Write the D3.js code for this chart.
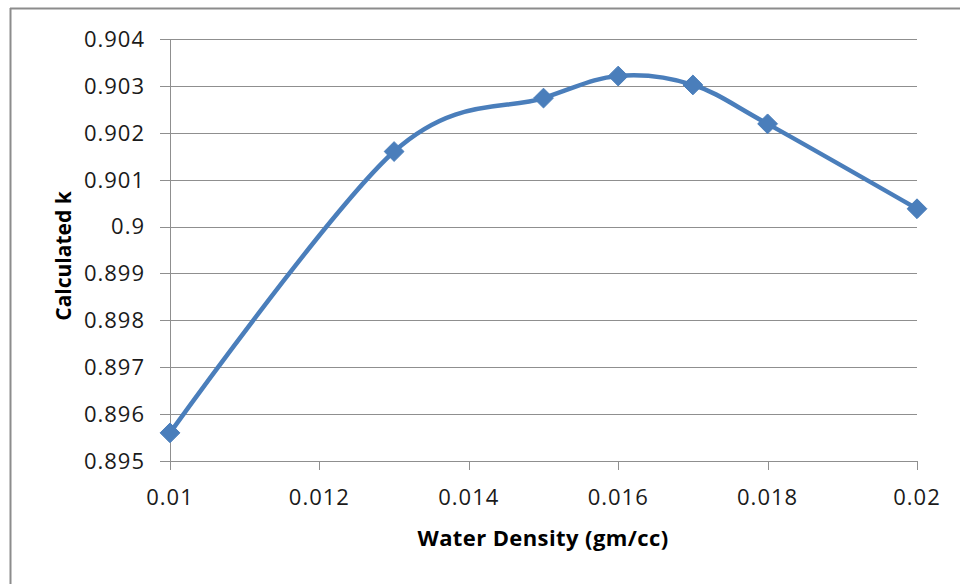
<!DOCTYPE html>
<html><head><meta charset="utf-8">
<script src="https://cdn.jsdelivr.net/npm/d3@7"></script>
<style>html,body{margin:0;padding:0;background:#fff;}svg{display:block;}</style>
</head><body>
<svg id="chart" width="960" height="584"></svg>
<script>
const waterDensity = [0.010, 0.013, 0.015, 0.016, 0.017, 0.018, 0.020];
const calculatedK = [0.89560, 0.90160, 0.90274, 0.90321, 0.90302, 0.90219, 0.90038];
const xTicks = [0.010, 0.012, 0.014, 0.016, 0.018, 0.020];
const xTickLabels = ["0.01", "0.012", "0.014", "0.016", "0.018", "0.02"];
const yTicks = [0.895, 0.896, 0.897, 0.898, 0.899, 0.900, 0.901, 0.902, 0.903, 0.904];
const yTickLabels = ["0.895", "0.896", "0.897", "0.898", "0.899", "0.9", "0.901", "0.902", "0.903", "0.904"];
const xTitle = "Water Density (gm/cc)";
const yTitle = "Calculated k";

(function () {
const svg = d3.select("#chart");
const font = "'Open Sans', 'Liberation Sans', Arial, sans-serif";
const pL = 170, pR = 917, pT = 39, pB = 461;
const x = d3.scaleLinear().domain([0.010, 0.020]).range([pL, pR]);
const y = d3.scaleLinear().domain([0.895, 0.904]).range([pB, pT]);

// outer frame
svg.append("line").attr("x1", 10).attr("x2", 960).attr("y1", 8.5).attr("y2", 8.5)
  .attr("stroke", "#8c8c8c").attr("stroke-width", 2);
svg.append("line").attr("x1", 10.5).attr("x2", 10.5).attr("y1", 8).attr("y2", 584)
  .attr("stroke", "#8c8c8c").attr("stroke-width", 2);

// gridlines
svg.append("g").selectAll("line").data(yTicks).join("line")
  .attr("x1", pL - 10).attr("x2", pR)
  .attr("y1", d => Math.round(y(d)) + 0.5).attr("y2", d => Math.round(y(d)) + 0.5)
  .attr("stroke", "#8f8f8f").attr("stroke-width", 1);

// y axis line
svg.append("line").attr("x1", pL + 0.5).attr("x2", pL + 0.5)
  .attr("y1", pT).attr("y2", pB + 9).attr("stroke", "#8f8f8f");
// x ticks
svg.append("g").selectAll("line").data(xTicks).join("line")
  .attr("x1", d => Math.round(x(d)) + 0.5).attr("x2", d => Math.round(x(d)) + 0.5)
  .attr("y1", pB).attr("y2", pB + 9).attr("stroke", "#8f8f8f");

// tick labels
svg.append("g").selectAll("text").data(yTicks).join("text")
  .attr("x", 145).attr("y", d => y(d)).attr("dy", "0.36em")
  .attr("text-anchor", "end").attr("font-family", font).attr("font-size", 22)
  .attr("letter-spacing", 1).attr("fill", "#1a1a1a").text((d, i) => yTickLabels[i]);
svg.append("g").selectAll("text").data(xTicks).join("text")
  .attr("x", d => x(d)).attr("y", 497).attr("dy", "0.36em")
  .attr("text-anchor", "middle").attr("font-family", font).attr("font-size", 22)
  .attr("letter-spacing", 1).attr("fill", "#1a1a1a").text((d, i) => xTickLabels[i]);

// titles
svg.append("text").attr("x", 543).attr("y", 538).attr("dy", "0.36em")
  .attr("text-anchor", "middle").attr("font-family", font).attr("font-size", 22)
  .attr("letter-spacing", 0.4)
  .attr("font-weight", "bold").attr("fill", "#000").text(xTitle);
svg.append("text").attr("transform", "translate(63,256) rotate(-90)").attr("dy", "0.36em")
  .attr("text-anchor", "middle").attr("font-family", font).attr("font-size", 21)
  .attr("font-weight", "bold").attr("fill", "#000").text(yTitle);

// line
const pts = waterDensity.map((d, i) => [d, calculatedK[i]]);
const line = d3.line().x(d => x(d[0])).y(d => y(d[1])).curve(d3.curveCardinal.tension(0));
svg.append("path").datum(pts).attr("d", line).attr("fill", "none")
  .attr("stroke", "#4a7ebb").attr("stroke-width", 4.5).attr("stroke-linejoin", "round");

// markers
svg.append("g").selectAll("path").data(pts).join("path")
  .attr("d", d3.symbol().type(d3.symbolDiamond2).size(250))
  .attr("transform", d => `translate(${x(d[0])},${y(d[1])})`)
  .attr("fill", "#4a7ebb").attr("stroke", "#4a7ebb").attr("stroke-width", 1);
})();
</script>
</body></html>
